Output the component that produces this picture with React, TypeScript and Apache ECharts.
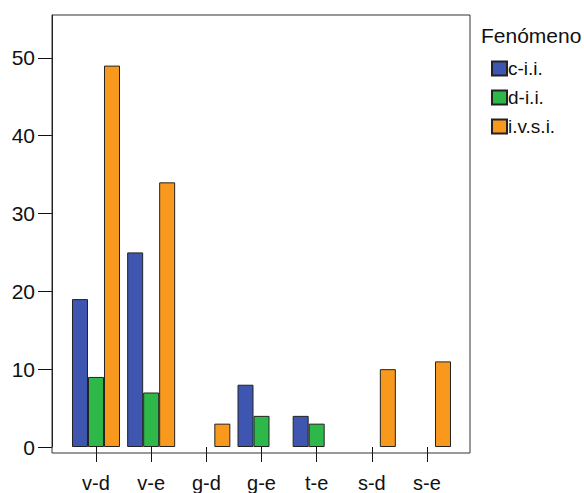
import React, { useEffect, useRef } from "react";
import * as echarts from "echarts";

const categories = ["v-d", "v-e", "g-d", "g-e", "t-e", "s-d", "s-e"];
const seriesNames = ["c-i.i.", "d-i.i.", "i.v.s.i."];
const cii = [19, 25, null, 8, 4, null, null];
const dii = [9, 7, null, 4, 3, null, null];
const ivsi = [49, 34, 3, null, null, 10, 11];
const yTicks = [0, 10, 20, 30, 40, 50];
const colors = ["#3e56b0", "#2fb84a", "#f8991d"];

export default function App() {
  const ref = useRef<HTMLDivElement>(null);
  useEffect(() => {
    if (!ref.current) return;
    const chart = echarts.init(ref.current, null, { renderer: "svg" });
    const font = "'Liberation Sans', Arial, sans-serif";
    const dataSets = [cii, dii, ivsi];
    chart.setOption({
      animation: false,
      backgroundColor: "#ffffff",
      textStyle: { fontFamily: font },
      grid: { left: 68.4, right: 129.4, top: 15, bottom: 40 },
      legend: {
        orient: "vertical",
        left: 486,
        top: 54,
        itemWidth: 15,
        itemHeight: 14,
        itemGap: 10,
        icon: "rect",
        data: seriesNames,
        textStyle: { fontSize: 19, color: "#111", fontFamily: font, padding: [0, 0, 0, -4] },
      },
      title: {
        text: "Fenómeno",
        left: 476,
        top: 20,
        textStyle: { fontSize: 21, fontWeight: "normal", color: "#111", fontFamily: font },
      },
      xAxis: {
        type: "category",
        data: categories,
        axisLine: { show: false },
        axisTick: { show: true, length: 15, alignWithLabel: true, lineStyle: { color: "#111" } },
        axisLabel: { fontSize: 20, color: "#111", margin: 26, fontFamily: font },
      },
      yAxis: {
        type: "value",
        min: 0,
        max: 55.5,
        interval: 10,
        offset: 16.4,
        splitLine: { show: false },
        axisLine: { show: true, lineStyle: { color: "#111" } },
        axisTick: { show: true, length: 14, lineStyle: { color: "#111" }, customValues: yTicks },
        axisLabel: {
          fontSize: 21,
          color: "#111",
          margin: 17,
          fontFamily: font,
          customValues: yTicks,
        },
      },
      graphic: [
        {
          type: "rect",
          shape: { x: 52, y: 15, width: 418, height: 438 },
          style: { fill: "none", stroke: "#333", lineWidth: 1 },
          silent: true,
          z: 10,
        },
      ],
      series: seriesNames.map((name, i) => ({
        name,
        type: "bar",
        data: dataSets[i],
        barWidth: 16,
        barGap: "0%",
        itemStyle: { color: colors[i], borderColor: "#222", borderWidth: 1 },
      })),
    });
    return () => chart.dispose();
  }, []);
  return (
    <div
      ref={ref}
      style={{ position: "fixed", left: 0, top: 0, width: 584, height: 493 }}
    />
  );
}
